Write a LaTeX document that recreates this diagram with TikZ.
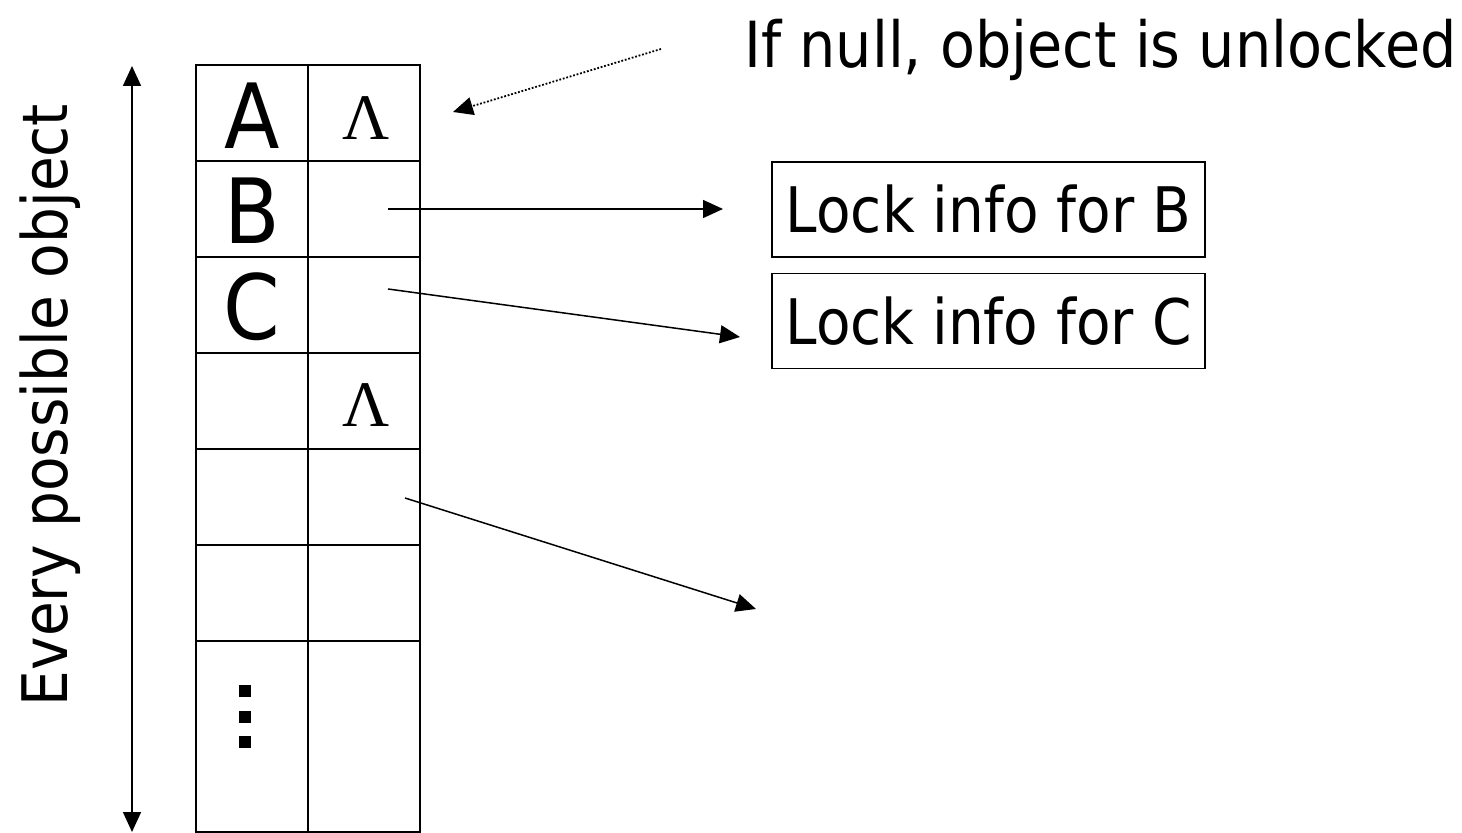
\documentclass[tikz,border=0pt]{standalone}
\usepackage{fontspec}
\setmainfont[FakeStretch=0.9]{DejaVu Sans}
\newfontfamily\lambdafont{Liberation Serif}
\usetikzlibrary{arrows.meta}

\begin{document}
\begin{tikzpicture}[x=0.5pt, y=-0.5pt,
    head/.tip={Triangle[length=10pt, width=9pt]},
    tip/.style={-head},
    pointer/.style={tip, line width=0.75pt},
    grid/.style={line width=1pt},
    lockbox/.style={draw, line width=0.75pt, minimum width=216.5pt, minimum height=47.5pt, inner sep=0pt, font=\fontsize{31.4}{36}\selectfont},
    key/.style={anchor=base, inner sep=0pt, font=\fontsize{45}{50}\selectfont},
    nil/.style={inner sep=0pt, font=\lambdafont\fontsize{32.5}{36}\selectfont}]
    \useasboundingbox (0,0) rectangle (1462,833);

    % --- Table of objects ---
    \draw[grid] (196,65) rectangle (420,832);
    \draw[grid] (308,65) -- (308,832);
    \foreach \y in {161,257,353,449,545,641}
        \draw[grid] (196,\y) -- (420,\y);

    % --- Object names ---
    \foreach \k/\y in {A/149, B/244, C/340}
        \node[key] (key\k) at (252,\y) {\k};
    \foreach \y in {691,717,742}
        \fill (239,\y-6) rectangle (251,\y+6); % more rows

    % --- Null pointers ---
    \node[nil] (nilA) at (366,118) {Λ};
    \node[nil] (nilD) at (366,405) {Λ};

    % --- Lock info ---
    \node[lockbox] (lockB) at (988.5,209.5) {Lock info for B};
    \node[lockbox] (lockC) at (988.5,321) {Lock info for C};
    \node[anchor=base west, inner sep=0pt, font=\fontsize{31.8}{36}\selectfont] (note) at (744,68) {If null, object is unlocked};

    % --- Pointer ends ---
    \coordinate (ptrB) at (388,209);
    \coordinate (endB) at (723,209);
    \coordinate (ptrC) at (388,289);
    \coordinate (endC) at (740,337);
    \coordinate (ptrE) at (405,498);
    \coordinate (endE) at (756,609);
    \coordinate (N) at (661,49);
    \coordinate (T) at (453,112);

    % --- Pointers ---
    \draw[pointer] (ptrB) -- (endB);
    \draw[pointer] (ptrC) -- (endC);
    \draw[pointer] (ptrE) -- (endE);
    \draw[pointer, line width=0.9pt, dash pattern=on 0.9pt off 0.9pt] (N) -- (T);

    % --- Range of objects ---
    \coordinate (top) at (132,66);
    \coordinate (bot) at (132,832);
    \draw[head-head, line width=0.8pt] (top) -- (bot);
    \node[rotate=90, anchor=base, inner sep=0pt, font=\fontsize{31.4}{36}\selectfont] (every) at (68,405) {Every possible object};

\end{tikzpicture}
\end{document}
